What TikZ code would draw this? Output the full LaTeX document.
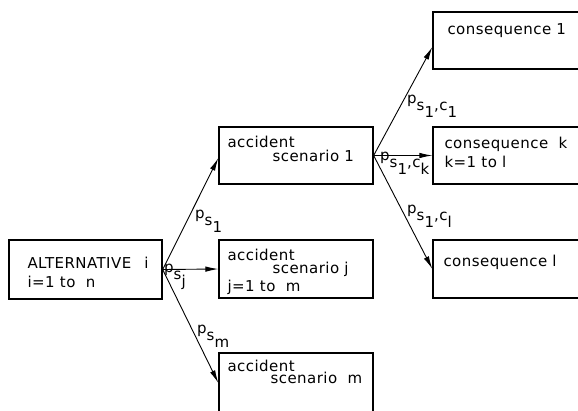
\documentclass[tikz,border=0pt]{standalone}
\usepackage{fontspec}
\setmainfont[LetterSpace=3]{DejaVu Sans}
\usepackage{tikz}
\usetikzlibrary{arrows.meta}
\newcommand{\lowr}[1]{\raisebox{-7pt}{#1}}

\begin{document}
\begin{tikzpicture}[x=1pt,y=-1pt,
  box/.style={draw,line width=1.3pt,minimum width=154pt,minimum height=57pt,inner sep=0pt},
  txt/.style={anchor=base west,inner sep=0pt,font=\fontsize{15}{15}\selectfont},
  lbl/.style={anchor=north west,inner sep=0pt,font=\fontsize{15}{15}\selectfont},
  arr/.style={line width=0.9pt,-{Latex[length=13pt,width=5.5pt]}}]
\useasboundingbox (0,0) rectangle (578,410);
\node[box,minimum width=153pt,minimum height=59pt] (alt) at (85.5,269.5) {};
\node[box] (sc1) at (296,155.5) {};
\node[box,minimum height=58pt] (scj) at (296,269) {};
\node[box,minimum height=60pt] (scm) at (296,383) {};
\node[box] (c1) at (510,40.5) {};
\node[box] (ck) at (510,155.5) {};
\node[box,minimum height=58pt] (cl) at (510,269) {};
\node[txt] (altA) at ([shift={(19,29)}]alt.north west) {ALTERNATIVE\hspace{13pt}i};
\node[txt] (altB) at ([shift={(19,48)}]alt.north west) {i=1 to\ \ n};
\node[txt] (sc1A) at ([shift={(9,21)}]sc1.north west) {accident};
\node[txt] (sc1B) at ([shift={(54,35)}]sc1.north west) {scenario 1};
\node[txt] (scjA) at ([shift={(9,21)}]scj.north west) {accident};
\node[txt] (scjB) at ([shift={(54,34)}]scj.north west) {scenario j};
\node[txt] (scjC) at ([shift={(9,52)}]scj.north west) {j=1 to\ \ m};
\node[txt] (scmA) at ([shift={(9,19)}]scm.north west) {accident};
\node[txt] (scmB) at ([shift={(52,31)}]scm.north west) {scenario\ \ m};
\node[txt] (c1A) at ([shift={(15,23)}]c1.north west) {consequence 1};
\node[txt] (ckA) at ([shift={(12,22)}]ck.north west) {consequence\ \ k};
\node[txt] (ckB) at ([shift={(12,41)}]ck.north west) {k=1 to l};
\node[txt] (clA) at ([shift={(11,27)}]cl.north west) {consequence l};
\draw[arr] (alt.east) -- ([yshift=-2.5pt]sc1.west);
\draw[arr] (alt.east) -- (scj.west);
\draw[arr] (alt.east) -- (scm.west);
\draw[arr] (sc1.east) -- ([yshift=-6.5pt]c1.west);
\draw[arr] (sc1.east) -- (ck.west);
\draw[arr] (sc1.east) -- (cl.west);
\node[lbl] (ps1) at (195,210) {p\lowr{s\lowr{1}}};
\node[lbl] (psj) at (164,264) {p\lowr{s\lowr{j}}};
\node[lbl] (psm) at (197,325) {p\lowr{s\lowr{m}}};
\node[lbl] (pc1) at (407,95) {p\lowr{s\lowr{1},c\lowr{1}}};
\node[lbl] (pck) at (380,152) {p\lowr{s\lowr{1},c\lowr{k}}};
\node[lbl] (pcl) at (407,205) {p\lowr{s\lowr{1},c\lowr{l}}};
\end{tikzpicture}
\end{document}
